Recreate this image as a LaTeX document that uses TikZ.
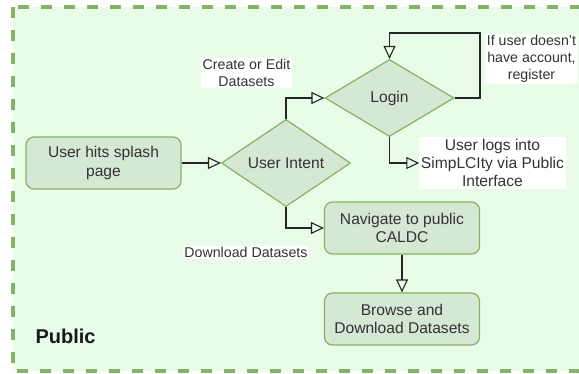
\documentclass[tikz,border=0pt]{standalone}
\usepackage{fontspec}
\setmainfont{Liberation Sans}
\usetikzlibrary{arrows.meta,shapes.geometric}
\definecolor{zonefill}{HTML}{E8FCE8}
\definecolor{zoneline}{HTML}{82B366}
\definecolor{boxfill}{HTML}{D5E8D4}
\definecolor{ink}{HTML}{333333}
\tikzset{
  procbox/.style={draw=zoneline, fill=boxfill, line width=1.2pt, rounded corners=8pt,
    minimum width=155pt, minimum height=52pt, align=center, text=ink,
    font=\fontsize{15.6}{18.7}\selectfont, inner sep=2pt},
  decision/.style={draw=zoneline, fill=boxfill, line width=1.2pt, diamond,
    minimum width=129pt, minimum height=77pt, inner sep=0pt, text=ink,
    font=\fontsize{15.6}{18.7}\selectfont},
  edgelabel/.style={fill=white, align=center, text=ink, inner sep=1.5pt,
    font=\fontsize{14.2}{17}\selectfont},
  biglabel/.style={fill=white, align=center, text=ink, inner sep=1.5pt,
    font=\fontsize{15.6}{18.3}\selectfont},
  flow/.style={draw=black!85, line width=1.1pt,
    -{Triangle[open, length=13pt, width=12pt, line width=1.1pt]}},
}
\begin{document}
\begin{tikzpicture}[x=1pt, y=-1pt]
  \useasboundingbox (0,0) rectangle (579,373);
  \clip (0,0) rectangle (579,373);

  % swimlane area
  \draw[zoneline, fill=zonefill, line width=3.4pt, dash pattern=on 11pt off 12pt]
    (13,7) rectangle (600,371);
  \node[anchor=west, font=\bfseries\fontsize{20}{24}\selectfont, text=black!90] (zone) at (32,336) {Public};

  % steps
  \node[procbox] (splash) at (103.5,163) {User hits splash\\page};
  \node[decision] (intent) at (286,163) {User Intent};
  \node[decision] (login) at (389.5,98) {Login};
  \node[procbox] (nav) at (402,228) {Navigate to public\\CALDC};
  \node[procbox] (browse) at (402,319) {Browse and\\Download Datasets};

  % labels
  \node[edgelabel] (create) at (246.5,73) {Create or Edit\\Datasets};
  \node[edgelabel] (download) at (246,252.5) {Download Datasets};
  \node[edgelabel] (register) at (531.5,59) {If user doesn't\\have account,\\register};
  \node[biglabel] (logs) at (492.5,163) {User logs into\\SimpLCIty via Public\\Interface};

  \coordinate (loopc) at (480,33);

  % connectors
  \draw[flow] (splash.east) -- (intent.west);
  \draw[flow] (intent.north) |- (login.west);
  \draw[flow] (login.east) -| (loopc) -| (login.north);
  \draw[flow] (login.south) |- (logs.west);
  \draw[flow] (intent.south) |- (nav.west);
  \draw[flow] (nav.south) -- (browse.north);
\end{tikzpicture}
\end{document}
